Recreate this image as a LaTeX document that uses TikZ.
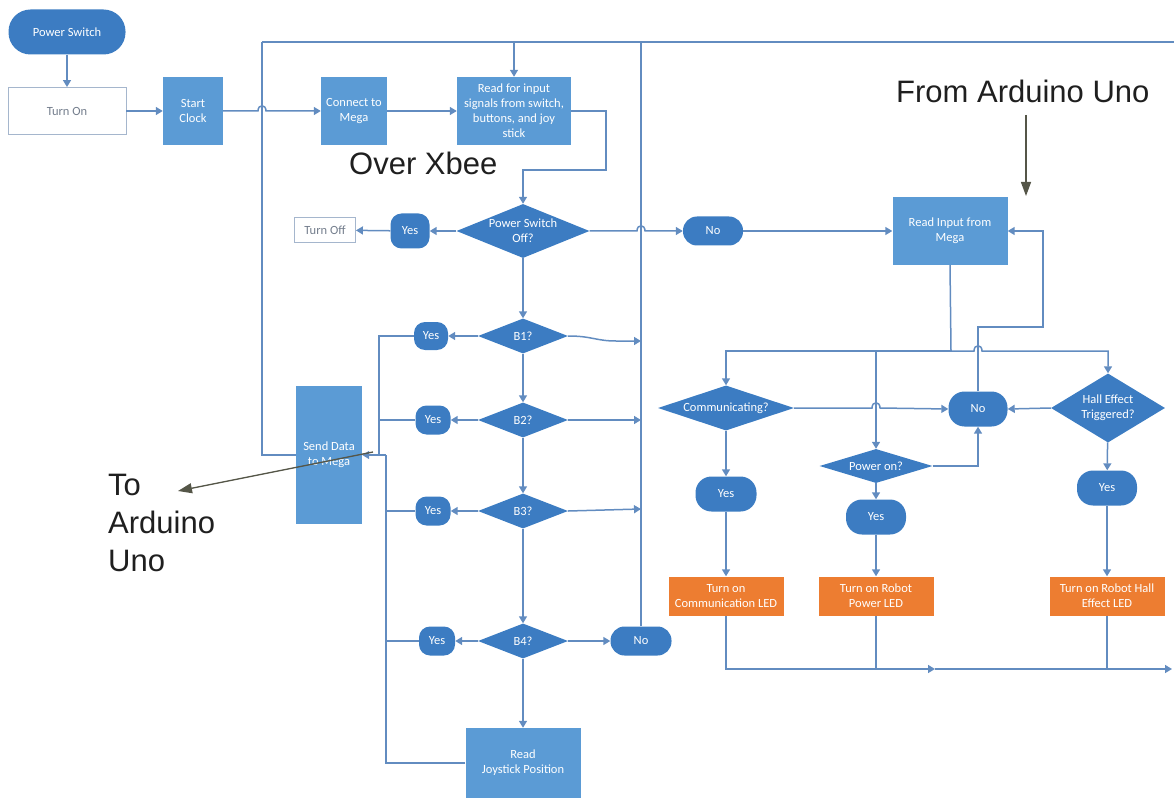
\documentclass[tikz,border=0pt]{standalone}
\usepackage{fontspec}
\setmainfont{Liberation Sans}
\newfontfamily\boxfont{Carlito}
\usetikzlibrary{shapes.geometric,arrows.meta,calc}
\definecolor{boxblue}{RGB}{91,155,213}
\definecolor{decblue}{RGB}{60,124,194}
\definecolor{lineblue}{RGB}{98,140,192}
\definecolor{ledorange}{RGB}{237,125,49}
\definecolor{ghostline}{RGB}{165,182,205}
\definecolor{ghosttext}{RGB}{115,125,140}
\definecolor{notecol}{RGB}{85,86,72}
\begin{document}
\begin{tikzpicture}[x=1pt,y=-1pt,
  nodetext/.style={inner sep=1pt, align=center, text=white,
    font=\boxfont\fontsize{12.5}{15}\selectfont},
  proc/.style={nodetext, rectangle, fill=boxblue},
  led/.style={nodetext, rectangle, fill=ledorange},
  term/.style={nodetext, rectangle, rounded corners=#1, fill=decblue},
  term/.default=12pt,
  dec/.style={diamond, fill=decblue, inner sep=0pt},
  dtxt/.style={inner sep=0pt, align=center, text=white,
    font=\boxfont\fontsize{12.5}{15}\selectfont},
  ghost/.style={nodetext, rectangle, draw=ghostline, line width=0.9pt,
    fill=white, text=ghosttext},
  conn/.style={draw=lineblue, line width=1.5pt},
  arr/.style={conn, -{Triangle[width=8pt,length=7pt]}},
  note/.style={draw=notecol, line width=1.3pt, -{Triangle[width=10pt,length=14pt]}},
  big/.style={inner sep=0pt, text=black!88, align=left,
    font=\fontsize{31}{38}\selectfont}]
\useasboundingbox (0,0) rectangle (1174,799);

% ---------- start-up chain ----------
\node[term=22pt, minimum width=117pt, minimum height=45pt] (pwr) at (67,32) {Power Switch};
\node[ghost, minimum width=118pt, minimum height=47pt] (turnon) at (67,111) {Turn On};
\node[proc, minimum width=60pt, minimum height=68pt] (start) at (193,111) {Start\\Clock};
\node[proc, minimum width=66pt, minimum height=68pt] (connect) at (354,111) {Connect to\\Mega};
\node[proc, minimum width=114pt, minimum height=68pt] (read) at (514,111)
  {Read for input\\signals from switch,\\buttons, and joy\\stick};

% ---------- button checks ----------
\node[dec, minimum width=133pt, minimum height=54pt,
  label={[dtxt]center:{Power Switch\\Off?}}] (psw) at (523,231) {};
\node[term=11pt, minimum width=39pt, minimum height=35pt] (yes0) at (410,231) {Yes};
\node[ghost, minimum width=61pt, minimum height=25pt] (turnoff) at (325,230) {Turn Off};
\node[term=14pt, minimum width=60pt, minimum height=29pt] (no1) at (713,231) {No};

\node[dec, minimum width=90pt, minimum height=35pt, label={[dtxt]center:B1?}] (b1) at (523,336) {};
\node[dec, minimum width=90pt, minimum height=35pt, label={[dtxt]center:B2?}] (b2) at (523,420) {};
\node[dec, minimum width=90pt, minimum height=35pt, label={[dtxt]center:B3?}] (b3) at (523,511) {};
\node[dec, minimum width=90pt, minimum height=35pt, label={[dtxt]center:B4?}] (b4) at (523,641) {};
\node[term=11pt, minimum width=34pt, minimum height=28pt] (yes1) at (431,336) {Yes};
\node[term=11pt, minimum width=35pt, minimum height=29pt] (yes2) at (433,420) {Yes};
\node[term=11pt, minimum width=35pt, minimum height=29pt] (yes3) at (433,511) {Yes};
\node[term=11pt, minimum width=36pt, minimum height=29pt] (yes4) at (437,641) {Yes};
\node[term=14pt, minimum width=61pt, minimum height=29pt] (no4) at (641,641) {No};
\node[proc, minimum width=115pt, minimum height=70pt] (joy) at (523,763) {Read\\Joystick Position};
\node[proc, minimum width=66pt, minimum height=138pt] (send) at (329,455) {Send Data\\to Mega};

% ---------- LED side ----------
\node[proc, minimum width=115pt, minimum height=68pt] (readmega) at (950,231) {Read Input from\\Mega};
\node[dec, minimum width=136pt, minimum height=45pt,
  label={[dtxt]center:Communicating?}] (comm) at (726,408) {};
\node[dec, minimum width=113pt, minimum height=34pt,
  label={[dtxt]center:Power on?}] (pwron) at (876,466) {};
\node[dec, minimum width=114pt, minimum height=69pt,
  label={[dtxt]center:{Hall Effect\\Triggered?}}] (hall) at (1108,408) {};
\node[term=16pt, minimum width=59pt, minimum height=35pt] (no2) at (978,409) {No};
\node[term=16pt, minimum width=61pt, minimum height=35pt] (yesc) at (726,494) {Yes};
\node[term=16pt, minimum width=60pt, minimum height=35pt] (yesp) at (876,517) {Yes};
\node[term=16pt, minimum width=60pt, minimum height=35pt] (yesh) at (1107,488) {Yes};
\node[led, minimum width=115pt, minimum height=39pt] (ledc) at (726,596) {Turn on\\Communication LED};
\node[led, minimum width=115pt, minimum height=39pt] (ledp) at (876,596) {Turn on Robot\\Power LED};
\node[led, minimum width=115pt, minimum height=39pt] (ledh) at (1107,596) {Turn on Robot Hall\\Effect LED};

% ---------- annotations ----------
\node[big, anchor=base west] (xbee) at (349,175) {Over Xbee};
\node[big, anchor=base west] (fromuno) at (896,103) {From Arduino Uno};
\node[big, anchor=north west] (touno) at (108,474) {To\\Arduino\\Uno};

% ---------- junction and hop points ----------
\coordinate (tl) at (262,42);
\coordinate (tr) at (1174,42);
\coordinate (tv) at (641,42);
\coordinate (h1) at (262,111);
\coordinate (h2) at (641,231);
\coordinate (h3) at (876,408);
\coordinate (h4) at (978,351);
\coordinate (r1) at (606,170);
\coordinate (busA) at (379,455);
\coordinate (busB) at (386,455);
\coordinate (d0) at (951,351);
\coordinate (l1) at (1043,327);
\coordinate (bm) at (935,669);
\coordinate (be) at (1172,669);
\coordinate (fa1) at (1026,115);
\coordinate (fa2) at (1026,196);
\coordinate (ta1) at (373,452);
\coordinate (ta2) at (178,491);

% ---------- connectors: start-up ----------
\draw[arr] (pwr) -- (turnon);
\draw[arr] (turnon) -- (start);
\draw[arr] (start.east) -- ($(h1)+(-4,0)$) .. controls +(0,-7) and +(0,-7) .. ($(h1)+(4,0)$) -- (connect.west);
\draw[arr] (connect) -- (read);
\draw[arr] (read.east) -| (r1) -| (psw.north);

% ---------- connectors: power switch and buttons ----------
\draw[arr] (psw) -- (yes0);
\draw[arr] (yes0) -- (turnoff);
\draw[arr] (psw.east) -- ($(h2)+(-4,0)$) .. controls +(0,-7) and +(0,-7) .. ($(h2)+(4,0)$) -- (no1.west);
\draw[arr] (no1) -- (readmega);
\draw[arr] (psw) -- (b1);
\draw[arr] (b1) -- (b2);
\draw[arr] (b2) -- (b3);
\draw[arr] (b3) -- (b4);
\draw[arr] (b4) -- (joy);
\draw[arr] (b1) -- (yes1);
\draw[arr] (b2) -- (yes2);
\draw[arr] (b3) -- (yes3);
\draw[arr] (b4) -- (yes4);
\draw[arr] (b4) -- (no4);
\draw[arr] (b1.east) .. controls (592,336) and (596,341) .. (616,341) -- (tv |- 0,341);
\draw[arr] (b2.east) -- (b2.east -| tv);
\draw[arr] (b3.east) -- ($(b3.east -| tv)+(0,-2)$);

% ---------- connectors: sending and the main loop ----------
\draw[conn] (yes1.west) -| (busA);
\draw[conn] (yes2.west) -- (yes2.west -| busA);
\draw[conn] (yes3.west) -- (yes3.west -| busB);
\draw[conn] (yes4.west) -- (yes4.west -| busB);
\draw[conn] (joy.west) -| (busB);
\draw[arr] (busB) -- (send.east);
\draw[conn] (send.west) -| (tl);
\draw[conn] (tl) -- (tr);
\draw[conn] (no4.north) -- (tv);
\draw[arr] (read.north |- tl) -- (read.north);

% ---------- connectors: LED side ----------
\draw[conn] (readmega.south) -- (d0);
\draw[arr] (d0) -| (comm.north);
\draw[arr] (d0) -- ($(h4)+(-4,0)$) .. controls +(0,-7) and +(0,-7) .. ($(h4)+(4,0)$) -| (hall.north);
\draw[arr] (pwron.north |- d0) -- (pwron.north);
\draw[arr] (comm.east) -- ($(h3)+(-4,0)$) .. controls +(0,-7) and +(0,-7) .. ($(h3)+(4,0)$) -- (no2.west);
\draw[arr] (hall.west) -- (no2.east);
\draw[arr] (pwron.east) -| (no2.south);
\draw[arr] (no2.north) |- (l1) |- (readmega.east);
\draw[arr] (comm) -- (yesc);
\draw[arr] (yesc) -- (ledc);
\draw[arr] (pwron) -- (yesp);
\draw[arr] (yesp) -- (ledp);
\draw[arr] (hall) -- (yesh);
\draw[arr] (yesh) -- (ledh);
\draw[arr] (ledc.south) |- (bm);
\draw[arr] (bm) -- (be);
\draw[conn] (ledp.south) -- (ledp.south |- bm);
\draw[conn] (ledh.south) -- (ledh.south |- bm);

% ---------- annotation arrows ----------
\draw[note] (fa1) -- (fa2);
\draw[note] (ta1) -- (ta2);
\end{tikzpicture}
\end{document}
